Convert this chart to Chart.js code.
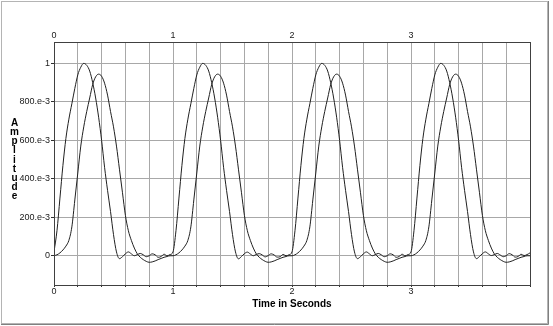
<!DOCTYPE html>
<html>
<head>
<meta charset="utf-8">
<script src="https://cdn.jsdelivr.net/npm/chart.js@4.4.0/dist/chart.umd.min.js"></script>
<style>
  html, body { margin: 0; padding: 0; background: #fff; }
  canvas { display: block; }
</style>
</head>
<body>
<canvas id="chart" width="553" height="326"></canvas>
<script>
// --- DATA ---
// one sample every 25 ms, 0 .. 4 s
const SAMPLE_STEP = 0.025;

// first pulse train (peaks ~1.0)
const ampA = [
  0.02, 0.13, 0.30, 0.47, 0.61, 0.71, 0.79, 0.87, 0.94, 0.98, 1.00, 0.99, 0.96, 0.90, 0.82, 0.72, 0.60, 0.46, 0.34, 0.23,
  0.11, 0.02, -0.015, -0.005, 0.01, 0.02, 0.01, 0.0, 0.006, 0.012, 0.005, -0.005, 0.0, 0.01, 0.005, -0.008, -0.004, 0.008, 0.0, 0.006,
  0.02, 0.13, 0.30, 0.47, 0.61, 0.71, 0.79, 0.87, 0.94, 0.98, 1.00, 0.99, 0.96, 0.90, 0.82, 0.72, 0.60, 0.46, 0.34, 0.23,
  0.11, 0.02, -0.016, -0.004, 0.011, 0.019, 0.009, 0.0, 0.007, 0.011, 0.004, -0.006, 0.001, 0.01, 0.004, -0.007, -0.005, 0.007, 0.0, 0.005,
  0.02, 0.13, 0.30, 0.47, 0.61, 0.71, 0.79, 0.87, 0.94, 0.98, 1.00, 0.99, 0.96, 0.90, 0.82, 0.72, 0.60, 0.46, 0.34, 0.23,
  0.11, 0.02, -0.015, -0.005, 0.01, 0.02, 0.01, 0.0, 0.006, 0.012, 0.005, -0.005, 0.0, 0.01, 0.005, -0.008, -0.004, 0.008, 0.0, 0.006,
  0.02, 0.13, 0.30, 0.47, 0.61, 0.71, 0.79, 0.87, 0.94, 0.98, 1.00, 0.99, 0.96, 0.90, 0.82, 0.72, 0.60, 0.46, 0.34, 0.23,
  0.11, 0.02, -0.015, -0.004, 0.011, 0.02, 0.01, 0.001, 0.006, 0.012, 0.004, -0.005, 0.0, 0.011, 0.005, -0.007, -0.004, 0.008, 0.001, 0.006,
  0.015
];

// second pulse train (delayed, peaks ~0.94)
const ampB = [
  0.0, 0.005, 0.015, 0.03, 0.05, 0.08, 0.15, 0.29, 0.43, 0.57, 0.67, 0.75, 0.82, 0.89, 0.93, 0.944, 0.933, 0.897, 0.835, 0.75,
  0.67, 0.57, 0.45, 0.33, 0.21, 0.13, 0.08, 0.04, 0.01, -0.008, -0.02, -0.029, -0.034, -0.032, -0.027, -0.02, -0.014, -0.008, -0.004, 0.0,
  0.0, 0.005, 0.015, 0.03, 0.05, 0.08, 0.15, 0.29, 0.43, 0.57, 0.67, 0.75, 0.82, 0.89, 0.93, 0.944, 0.933, 0.897, 0.835, 0.75,
  0.67, 0.57, 0.45, 0.33, 0.21, 0.13, 0.08, 0.04, 0.01, -0.008, -0.02, -0.029, -0.034, -0.032, -0.027, -0.02, -0.014, -0.008, -0.004, 0.0,
  0.0, 0.005, 0.015, 0.03, 0.05, 0.08, 0.15, 0.29, 0.43, 0.57, 0.67, 0.75, 0.82, 0.89, 0.93, 0.944, 0.933, 0.897, 0.835, 0.75,
  0.67, 0.57, 0.45, 0.33, 0.21, 0.13, 0.08, 0.04, 0.01, -0.008, -0.02, -0.029, -0.034, -0.032, -0.027, -0.02, -0.014, -0.008, -0.004, 0.0,
  0.0, 0.005, 0.015, 0.03, 0.05, 0.08, 0.15, 0.29, 0.43, 0.57, 0.67, 0.75, 0.82, 0.89, 0.93, 0.944, 0.933, 0.897, 0.835, 0.75,
  0.67, 0.57, 0.45, 0.33, 0.21, 0.13, 0.08, 0.04, 0.01, -0.008, -0.02, -0.029, -0.034, -0.032, -0.027, -0.02, -0.014, -0.008, -0.004, 0.0,
  0.0
];

// axis ticks / labels
const xGridTicks = [0, 0.2, 0.4, 0.6, 0.8, 1, 1.2, 1.4, 1.6, 1.8, 2, 2.2, 2.4, 2.6, 2.8, 3, 3.2, 3.4, 3.6, 3.8, 4];
const xTickLabels = ['0', '', '', '', '', '1', '', '', '', '', '2', '', '', '', '', '3', '', '', '', '', ''];
const yGridTicks = [0, 0.2, 0.4, 0.6, 0.8, 1];
const yTickLabels = ['0', '200.e-3', '400.e-3', '600.e-3', '800.e-3', '1'];
const xTitle = 'Time in Seconds';
const yTitle = 'Amplitude';

const sampleTimes = ampA.map((_, i) => +(i * SAMPLE_STEP).toFixed(3));

const FONT = "'Liberation Sans', Arial, sans-serif";
const GRID = '#a8a8a8';
const INK = '#202020';

// frame around the panel, box around the plot, stacked y title
const framePlugin = {
  id: 'frame',
  beforeDraw(chart) {
    const ctx = chart.ctx;
    ctx.save();
    ctx.lineWidth = 1;
    ctx.strokeStyle = '#b4b4b4';
    ctx.strokeRect(1.5, 1.5, 546, 322);
    ctx.strokeStyle = '#808080';
    ctx.beginPath();
    ctx.moveTo(548.5, 1); ctx.lineTo(548.5, 324.5); ctx.lineTo(1, 324.5);
    ctx.stroke();
    ctx.restore();
  },
  afterDatasetsDraw(chart) {
    const { ctx, chartArea: a } = chart;
    ctx.save();
    ctx.lineWidth = 1;
    ctx.strokeStyle = '#404040';
    ctx.strokeRect(Math.round(a.left) + 0.5, Math.round(a.top) + 0.5,
      Math.round(a.right - a.left), Math.round(a.bottom - a.top));
    // vertical title, one upright letter per line
    ctx.fillStyle = '#000';
    ctx.font = 'bold 10px ' + FONT;
    ctx.textAlign = 'center';
    ctx.textBaseline = 'middle';
    yTitle.split('').forEach((ch, i) => ctx.fillText(ch, 14.5, 123 + i * 9.2));
    ctx.restore();
  }
};

const tickFont = { family: FONT, size: 9, lineHeight: 1.1 };

new Chart(document.getElementById('chart'), {
  type: 'line',
  data: {
    labels: sampleTimes,
    datasets: [
      { data: ampA, borderColor: INK, borderWidth: 1, pointRadius: 0, fill: false, cubicInterpolationMode: 'monotone' },
      { data: ampB, borderColor: INK, borderWidth: 1, pointRadius: 0, fill: false, cubicInterpolationMode: 'monotone' }
    ]
  },
  options: {
    responsive: false,
    animation: false,
    devicePixelRatio: 1,
    layout: { padding: { left: 0, right: 23, top: 0, bottom: 17 } },
    plugins: { legend: { display: false }, tooltip: { enabled: false } },
    scales: {
      x: {
        type: 'linear', position: 'bottom', min: 0, max: 4,
        afterBuildTicks: s => { s.ticks = xGridTicks.map(v => ({ value: v })); },
        afterFit: s => { s.height = 24; },
        grid: { color: GRID, tickLength: 2, tickColor: '#303030' },
        border: { display: false },
        ticks: { autoSkip: false, maxRotation: 0, padding: 0, color: INK, font: tickFont,
          callback: (v, i) => xTickLabels[i] },
        title: { display: true, text: xTitle, color: '#000', padding: 0,
          font: { family: FONT, size: 10, weight: 'bold', lineHeight: 1 } }
      },
      x2: {
        type: 'linear', position: 'top', min: 0, max: 4,
        afterBuildTicks: s => { s.ticks = xGridTicks.map(v => ({ value: v })); },
        afterFit: s => { s.height = 42; },
        grid: { drawOnChartArea: false, drawTicks: false },
        border: { display: false },
        ticks: { autoSkip: false, maxRotation: 0, padding: 2, color: INK, font: tickFont,
          callback: (v, i) => xTickLabels[i] }
      },
      y: {
        type: 'linear', position: 'left', min: -0.152, max: 1.111,
        afterBuildTicks: s => { s.ticks = yGridTicks.map(v => ({ value: v })); },
        afterFit: s => { s.width = 54; },
        grid: { color: GRID, tickLength: 3, tickColor: '#303030' },
        border: { display: false },
        ticks: { padding: 1, color: INK, font: tickFont, callback: (v, i) => yTickLabels[i] }
      }
    }
  },
  plugins: [framePlugin]
});
</script>
</body>
</html>
